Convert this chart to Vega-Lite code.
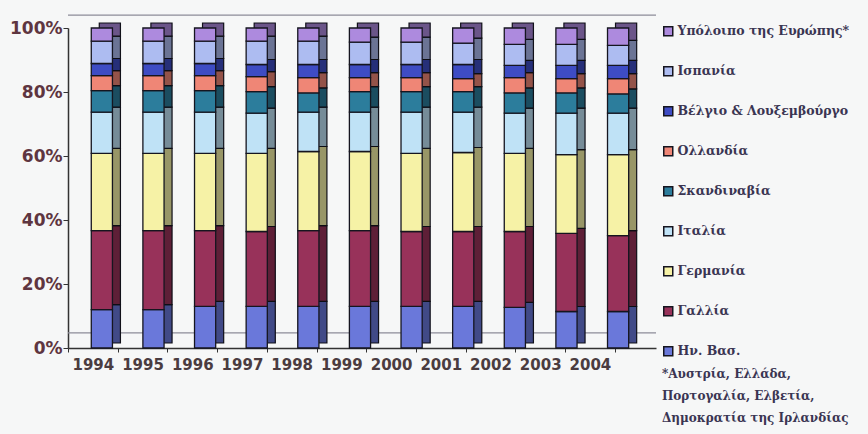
{
  "$schema": "https://vega.github.io/schema/vega-lite/v6.json",
  "width": 588,
  "height": 320,
  "autosize": {"type": "none"},
  "padding": {"left": 68, "top": 28, "right": 212, "bottom": 86},
  "background": "#f6f7f7",
  "config": {"view": {"stroke": null}},
  "datasets": {
    "shares": [
      {"year": "1994", "k": 1, "country": "Ην. Βασ.", "share": 12.0},
      {"year": "1994", "k": 2, "country": "Γαλλία", "share": 24.7},
      {"year": "1994", "k": 3, "country": "Γερμανία", "share": 24.1},
      {"year": "1994", "k": 4, "country": "Ιταλία", "share": 12.9},
      {"year": "1994", "k": 5, "country": "Σκανδιναβία", "share": 6.7},
      {"year": "1994", "k": 6, "country": "Ολλανδία", "share": 4.7},
      {"year": "1994", "k": 7, "country": "Βέλγιο & Λουξεμβούργο", "share": 3.8},
      {"year": "1994", "k": 8, "country": "Ισπανία", "share": 7.0},
      {"year": "1994", "k": 9, "country": "Υπόλοιπο της Ευρώπης*", "share": 4.1},
      {"year": "1995", "k": 1, "country": "Ην. Βασ.", "share": 12.0},
      {"year": "1995", "k": 2, "country": "Γαλλία", "share": 24.7},
      {"year": "1995", "k": 3, "country": "Γερμανία", "share": 24.1},
      {"year": "1995", "k": 4, "country": "Ιταλία", "share": 12.9},
      {"year": "1995", "k": 5, "country": "Σκανδιναβία", "share": 6.7},
      {"year": "1995", "k": 6, "country": "Ολλανδία", "share": 4.7},
      {"year": "1995", "k": 7, "country": "Βέλγιο & Λουξεμβούργο", "share": 3.8},
      {"year": "1995", "k": 8, "country": "Ισπανία", "share": 7.0},
      {"year": "1995", "k": 9, "country": "Υπόλοιπο της Ευρώπης*", "share": 4.1},
      {"year": "1996", "k": 1, "country": "Ην. Βασ.", "share": 13.0},
      {"year": "1996", "k": 2, "country": "Γαλλία", "share": 23.7},
      {"year": "1996", "k": 3, "country": "Γερμανία", "share": 24.1},
      {"year": "1996", "k": 4, "country": "Ιταλία", "share": 12.9},
      {"year": "1996", "k": 5, "country": "Σκανδιναβία", "share": 6.7},
      {"year": "1996", "k": 6, "country": "Ολλανδία", "share": 4.7},
      {"year": "1996", "k": 7, "country": "Βέλγιο & Λουξεμβούργο", "share": 3.8},
      {"year": "1996", "k": 8, "country": "Ισπανία", "share": 7.0},
      {"year": "1996", "k": 9, "country": "Υπόλοιπο της Ευρώπης*", "share": 4.1},
      {"year": "1997", "k": 1, "country": "Ην. Βασ.", "share": 13.0},
      {"year": "1997", "k": 2, "country": "Γαλλία", "share": 23.4},
      {"year": "1997", "k": 3, "country": "Γερμανία", "share": 24.4},
      {"year": "1997", "k": 4, "country": "Ιταλία", "share": 12.6},
      {"year": "1997", "k": 5, "country": "Σκανδιναβία", "share": 6.7},
      {"year": "1997", "k": 6, "country": "Ολλανδία", "share": 4.7},
      {"year": "1997", "k": 7, "country": "Βέλγιο & Λουξεμβούργο", "share": 3.8},
      {"year": "1997", "k": 8, "country": "Ισπανία", "share": 7.3},
      {"year": "1997", "k": 9, "country": "Υπόλοιπο της Ευρώπης*", "share": 4.1},
      {"year": "1998", "k": 1, "country": "Ην. Βασ.", "share": 13.0},
      {"year": "1998", "k": 2, "country": "Γαλλία", "share": 23.7},
      {"year": "1998", "k": 3, "country": "Γερμανία", "share": 24.7},
      {"year": "1998", "k": 4, "country": "Ιταλία", "share": 12.3},
      {"year": "1998", "k": 5, "country": "Σκανδιναβία", "share": 6.0},
      {"year": "1998", "k": 6, "country": "Ολλανδία", "share": 4.8},
      {"year": "1998", "k": 7, "country": "Βέλγιο & Λουξεμβούργο", "share": 4.1},
      {"year": "1998", "k": 8, "country": "Ισπανία", "share": 7.3},
      {"year": "1998", "k": 9, "country": "Υπόλοιπο της Ευρώπης*", "share": 4.1},
      {"year": "1999", "k": 1, "country": "Ην. Βασ.", "share": 13.0},
      {"year": "1999", "k": 2, "country": "Γαλλία", "share": 23.7},
      {"year": "1999", "k": 3, "country": "Γερμανία", "share": 24.7},
      {"year": "1999", "k": 4, "country": "Ιταλία", "share": 12.3},
      {"year": "1999", "k": 5, "country": "Σκανδιναβία", "share": 6.4},
      {"year": "1999", "k": 6, "country": "Ολλανδία", "share": 4.4},
      {"year": "1999", "k": 7, "country": "Βέλγιο & Λουξεμβούργο", "share": 4.1},
      {"year": "1999", "k": 8, "country": "Ισπανία", "share": 7.0},
      {"year": "1999", "k": 9, "country": "Υπόλοιπο της Ευρώπης*", "share": 4.4},
      {"year": "2000", "k": 1, "country": "Ην. Βασ.", "share": 13.0},
      {"year": "2000", "k": 2, "country": "Γαλλία", "share": 23.4},
      {"year": "2000", "k": 3, "country": "Γερμανία", "share": 24.4},
      {"year": "2000", "k": 4, "country": "Ιταλία", "share": 12.9},
      {"year": "2000", "k": 5, "country": "Σκανδιναβία", "share": 6.4},
      {"year": "2000", "k": 6, "country": "Ολλανδία", "share": 4.4},
      {"year": "2000", "k": 7, "country": "Βέλγιο & Λουξεμβούργο", "share": 4.1},
      {"year": "2000", "k": 8, "country": "Ισπανία", "share": 7.0},
      {"year": "2000", "k": 9, "country": "Υπόλοιπο της Ευρώπης*", "share": 4.4},
      {"year": "2001", "k": 1, "country": "Ην. Βασ.", "share": 13.0},
      {"year": "2001", "k": 2, "country": "Γαλλία", "share": 23.4},
      {"year": "2001", "k": 3, "country": "Γερμανία", "share": 24.7},
      {"year": "2001", "k": 4, "country": "Ιταλία", "share": 12.6},
      {"year": "2001", "k": 5, "country": "Σκανδιναβία", "share": 6.4},
      {"year": "2001", "k": 6, "country": "Ολλανδία", "share": 4.1},
      {"year": "2001", "k": 7, "country": "Βέλγιο & Λουξεμβούργο", "share": 4.4},
      {"year": "2001", "k": 8, "country": "Ισπανία", "share": 6.7},
      {"year": "2001", "k": 9, "country": "Υπόλοιπο της Ευρώπης*", "share": 4.7},
      {"year": "2002", "k": 1, "country": "Ην. Βασ.", "share": 12.7},
      {"year": "2002", "k": 2, "country": "Γαλλία", "share": 23.7},
      {"year": "2002", "k": 3, "country": "Γερμανία", "share": 24.4},
      {"year": "2002", "k": 4, "country": "Ιταλία", "share": 12.6},
      {"year": "2002", "k": 5, "country": "Σκανδιναβία", "share": 6.3},
      {"year": "2002", "k": 6, "country": "Ολλανδία", "share": 4.8},
      {"year": "2002", "k": 7, "country": "Βέλγιο & Λουξεμβούργο", "share": 3.8},
      {"year": "2002", "k": 8, "country": "Ισπανία", "share": 6.6},
      {"year": "2002", "k": 9, "country": "Υπόλοιπο της Ευρώπης*", "share": 5.1},
      {"year": "2003", "k": 1, "country": "Ην. Βασ.", "share": 11.4},
      {"year": "2003", "k": 2, "country": "Γαλλία", "share": 24.4},
      {"year": "2003", "k": 3, "country": "Γερμανία", "share": 24.6},
      {"year": "2003", "k": 4, "country": "Ιταλία", "share": 13.0},
      {"year": "2003", "k": 5, "country": "Σκανδιναβία", "share": 6.3},
      {"year": "2003", "k": 6, "country": "Ολλανδία", "share": 4.5},
      {"year": "2003", "k": 7, "country": "Βέλγιο & Λουξεμβούργο", "share": 4.1},
      {"year": "2003", "k": 8, "country": "Ισπανία", "share": 6.6},
      {"year": "2003", "k": 9, "country": "Υπόλοιπο της Ευρώπης*", "share": 5.1},
      {"year": "2004", "k": 1, "country": "Ην. Βασ.", "share": 11.4},
      {"year": "2004", "k": 2, "country": "Γαλλία", "share": 23.7},
      {"year": "2004", "k": 3, "country": "Γερμανία", "share": 25.3},
      {"year": "2004", "k": 4, "country": "Ιταλία", "share": 13.0},
      {"year": "2004", "k": 5, "country": "Σκανδιναβία", "share": 6.0},
      {"year": "2004", "k": 6, "country": "Ολλανδία", "share": 4.8},
      {"year": "2004", "k": 7, "country": "Βέλγιο & Λουξεμβούργο", "share": 4.1},
      {"year": "2004", "k": 8, "country": "Ισπανία", "share": 6.3},
      {"year": "2004", "k": 9, "country": "Υπόλοιπο της Ευρώπης*", "share": 5.4}
    ]
  },
  "data": {"name": "shares"},
  "title": {
    "text": ["*Αυστρία, Ελλάδα,", "Πορτογαλία, Ελβετία,", "Δημοκρατία της Ιρλανδίας"],
    "orient": "bottom",
    "anchor": "end",
    "frame": "group",
    "align": "left",
    "baseline": "top",
    "dx": 6,
    "offset": -3,
    "font": "DejaVu Serif",
    "fontWeight": "bold",
    "fontSize": 12,
    "lineHeight": 22,
    "color": "#3a3552"
  },
  "layer": [
    {
      "layer": [
        {
          "data": {"values": [{}]},
          "mark": {"type": "rule", "color": "#8c8c99", "strokeWidth": 1.2},
          "encoding": {"y": {"datum": 1.04, "type": "quantitative", "scale": {"domain": [0, 1]}}}
        },
        {
          "data": {"values": [{}]},
          "mark": {"type": "rule", "color": "#8c8c99", "strokeWidth": 1.2},
          "encoding": {"y": {"datum": 0.047, "type": "quantitative"}}
        },
        {
          "mark": {"type": "bar", "xOffset": 8, "x2Offset": 8, "yOffset": -5, "y2Offset": -5, "stroke": "#15151f", "strokeWidth": 1.2},
          "encoding": {
            "x": {"field": "year", "type": "ordinal", "scale": {"type": "band", "paddingInner": 0.59, "paddingOuter": 0.49, "align": 0.46}, "axis": null},
            "y": {"field": "share", "type": "quantitative", "stack": "normalize", "scale": {"domain": [0, 1]}},
            "color": {"field": "country", "type": "nominal"},
            "order": {"field": "k", "type": "quantitative"}
          }
        },
        {
          "mark": {"type": "bar", "xOffset": 8, "x2Offset": 8, "yOffset": -5, "y2Offset": -5, "color": "#000000", "opacity": 0.38},
          "encoding": {
            "x": {"field": "year", "type": "ordinal", "axis": null},
            "y": {"field": "share", "type": "quantitative", "stack": "normalize"},
            "detail": {"field": "country", "type": "nominal"},
            "order": {"field": "k", "type": "quantitative"}
          }
        },
        {
          "mark": {"type": "bar", "stroke": "#15151f", "strokeWidth": 1.3},
          "encoding": {
            "x": {"field": "year", "type": "ordinal", "axis": null},
            "y": {
              "field": "share",
              "type": "quantitative",
              "stack": "normalize",
              "axis": {
                "title": null,
                "format": ".0%",
                "values": [0, 0.2, 0.4, 0.6, 0.8, 1],
                "grid": false,
                "domainColor": "#333333",
                "domainWidth": 1.5,
                "tickColor": "#333333",
                "tickSize": 5,
                "labelPadding": 1,
                "labelFont": "DejaVu Sans",
                "labelFontWeight": "bold",
                "labelFontSize": 17,
                "labelColor": "#5e3540"
              }
            },
            "color": {
              "field": "country",
              "type": "nominal",
              "scale": {
                "domain": ["Υπόλοιπο της Ευρώπης*", "Ισπανία", "Βέλγιο & Λουξεμβούργο", "Ολλανδία", "Σκανδιναβία", "Ιταλία", "Γερμανία", "Γαλλία", "Ην. Βασ."],
                "range": ["#ad8ade", "#adbcf1", "#3e4cc4", "#ef8676", "#2c7d9c", "#bfe2f6", "#f6f2a6", "#98325a", "#6a78da"]
              },
              "legend": {
                "orient": "none",
                "legendX": 594,
                "legendY": -3,
                "title": null,
                "symbolType": "square",
                "symbolSize": 81,
                "symbolStrokeColor": "#2a2a48",
                "symbolStrokeWidth": 1.5,
                "labelFont": "DejaVu Serif",
                "labelFontWeight": "bold",
                "labelFontSize": 12.5,
                "labelColor": "#3a3552",
                "labelOffset": 3,
                "labelLimit": 0,
                "rowPadding": 24
              }
            },
            "order": {"field": "k", "type": "quantitative"}
          }
        }
      ]
    },
    {
      "mark": {"type": "point", "opacity": 0},
      "encoding": {
        "x": {
          "field": "year",
          "type": "ordinal",
          "scale": {"type": "band", "paddingInner": 0, "paddingOuter": 0.415, "align": 0},
          "axis": {
            "orient": "bottom",
            "title": null,
            "labelAngle": 0,
            "labelOverlap": false,
            "tickBand": "extent",
            "tickSize": 4,
            "tickColor": "#333333",
            "domainColor": "#333333",
            "domainWidth": 1.5,
            "labelPadding": 5,
            "labelFont": "DejaVu Sans",
            "labelFontWeight": "bold",
            "labelFontSize": 15,
            "labelColor": "#4a3c40"
          }
        }
      }
    }
  ],
  "resolve": {"scale": {"x": "independent"}}
}
